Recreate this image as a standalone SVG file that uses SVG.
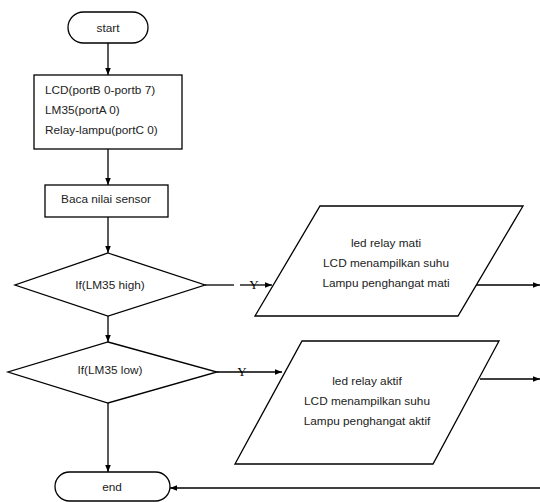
<svg xmlns="http://www.w3.org/2000/svg" width="540" height="502" viewBox="0 0 540 502">
<defs>
<marker id="ah" viewBox="0 0 10 10" refX="10" refY="5" markerWidth="7" markerHeight="7" orient="auto-start-reverse" markerUnits="userSpaceOnUse">
<path d="M0,1 L10,5 L0,9 z" fill="#000"/>
</marker>
<style>
.s{fill:#fff;stroke:#000;stroke-width:1.3}
.t{font-family:"Liberation Sans","Open Sans",sans-serif;font-size:11.8px;fill:#222}
.c{text-anchor:middle}
.y{font-family:"Liberation Serif",serif;font-size:13px;fill:#000;text-anchor:middle}
.l{fill:none;stroke:#000;stroke-width:1.3}
</style>
</defs>
<rect width="540" height="502" fill="#fff"/>
<g id="connectors">
<line class="l" x1="108" y1="43" x2="108" y2="75" marker-end="url(#ah)"/>
<line class="l" x1="108" y1="149" x2="108" y2="185" marker-end="url(#ah)"/>
<line class="l" x1="108" y1="217" x2="108" y2="253" marker-end="url(#ah)"/>
<line class="l" x1="108" y1="316" x2="108" y2="342" marker-end="url(#ah)"/>
<line class="l" x1="108" y1="403" x2="108" y2="472" marker-end="url(#ah)"/>
<polyline class="l" points="205,285 234,285"/>
<polyline class="l" points="240,285 272,285" marker-end="url(#ah)"/>
<text class="y" x="254" y="289">Y</text>
<polyline class="l" points="217,372 282,372" marker-end="url(#ah)"/>
<text class="y" x="242" y="376">Y</text>
<line class="l" x1="475" y1="285" x2="540" y2="285" marker-end="url(#ah)"/>
<line class="l" x1="480" y1="379" x2="540" y2="379" marker-end="url(#ah)"/>
<line class="l" x1="540" y1="488" x2="170" y2="488" marker-end="url(#ah)"/>
</g>
<g id="start">
<rect class="s" x="68" y="12" width="80" height="31" rx="15.5"/>
<text class="t c" x="108" y="32">start</text>
</g>
<g id="init">
<rect class="s" x="34" y="75" width="148" height="74"/>
<text class="t" x="45" y="94">LCD(portB 0-portb 7)</text>
<text class="t" x="45" y="114">LM35(portA 0)</text>
<text class="t" x="45" y="134">Relay-lampu(portC 0)</text>
</g>
<g id="baca">
<rect class="s" x="45" y="185" width="123" height="32"/>
<text class="t c" x="106" y="203">Baca nilai sensor</text>
</g>
<g id="if-high">
<polygon class="s" points="108,253 205,285 108,316 15,285"/>
<text class="t c" x="110" y="289">If(LM35 high)</text>
</g>
<g id="if-low">
<polygon class="s" points="108,342 217,372 108,403 8,372"/>
<text class="t c" x="110" y="374">If(LM35 low)</text>
</g>
<g id="out-mati">
<polygon class="s" points="320,206 523,206 458,316 255,316"/>
<text class="t c" x="386" y="247">led relay mati</text>
<text class="t c" x="386" y="267">LCD menampilkan suhu</text>
<text class="t c" x="386" y="287">Lampu penghangat mati</text>
</g>
<g id="out-aktif">
<polygon class="s" points="302,341 499,341 433,464 235,464"/>
<text class="t c" x="367" y="385">led relay aktif</text>
<text class="t c" x="367" y="405">LCD menampilkan suhu</text>
<text class="t c" x="367" y="425">Lampu penghangat aktif</text>
</g>
<g id="end">
<rect class="s" x="55" y="472" width="115" height="29" rx="14.5"/>
<text class="t c" x="112" y="491">end</text>
</g>
</svg>
